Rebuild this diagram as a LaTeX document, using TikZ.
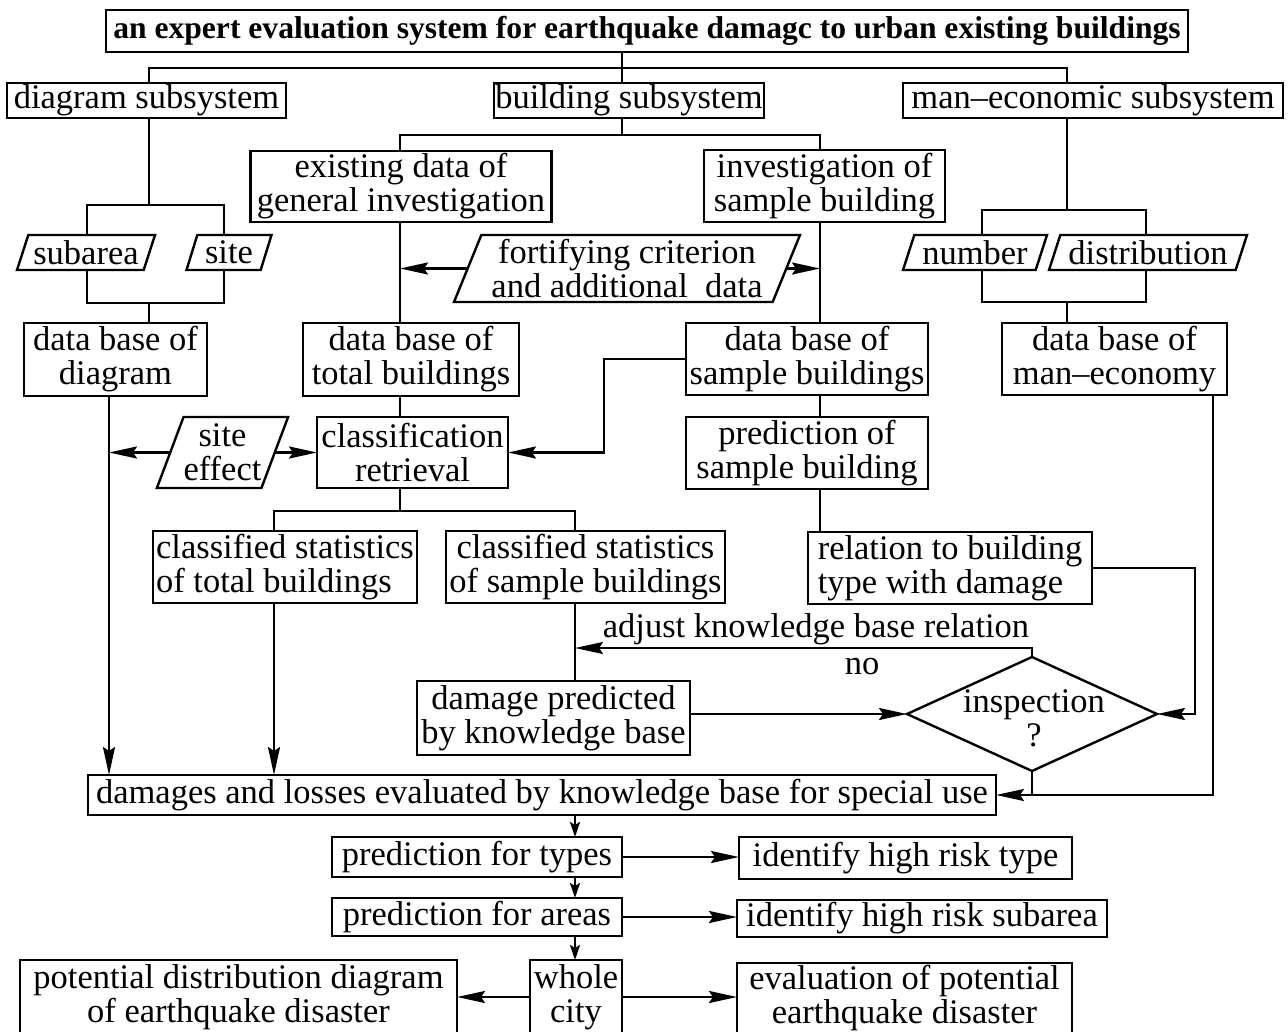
\documentclass[tikz,border=0pt]{standalone}
\usepackage{fontspec}
\setmainfont{Liberation Serif}
\usetikzlibrary{shapes.geometric,arrows.meta,calc}
\newcommand{\bodyfont}{\fontsize{34.5}{34}\selectfont}
\newcommand{\headfont}{\fontsize{31.6}{32}\selectfont\bfseries}
\begin{document}
\begin{tikzpicture}[x=1pt,y=-1pt,
  every node/.style={inner sep=0pt, outer sep=0pt},
  box/.style={draw, line width=2.4pt, align=center, font=\bodyfont},
  para/.style={draw, line width=2.4pt, trapezium, trapezium left angle=65, trapezium right angle=115, trapezium stretches body=true, align=center, font=\bodyfont},
  lbl/.style={align=center, font=\bodyfont},
  conn/.style={line width=2.4pt},
  arr/.style={conn, -{Stealth[length=28pt,width=12pt,inset=4pt]}},
  arrs/.style={conn, -{Stealth[length=15pt,width=10pt,inset=3pt]}},
]
\fill[white] (0,0) rectangle (1288,1032);
\useasboundingbox (0,0) rectangle (1288,1032);
\clip (0,0) rectangle (1288,1032);

% axes and junctions
\coordinate (xA) at (149,0);
\coordinate (xB) at (622,0);
\coordinate (xC) at (400,0);
\coordinate (xD) at (820,0);
\coordinate (xE) at (1067,0);
\coordinate (xF) at (109,0);
\coordinate (xG) at (274,0);
\coordinate (xH) at (575,0);
\coordinate (xI) at (1213,0);
\coordinate (xJ) at (1195,0);
\coordinate (xL) at (604,0);
\coordinate (xS1) at (87,0);
\coordinate (xS2) at (224,0);
\coordinate (xN) at (982,0);
\coordinate (xM) at (1146,0);
\coordinate (j1) at (622,68);
\coordinate (j2) at (622,135);
\coordinate (j3) at (149,205);
\coordinate (j4) at (149,303);
\coordinate (j5) at (1067,210);
\coordinate (j6) at (1067,302);
\coordinate (j7) at (400,511);
\coordinate (j8) at (575,648);

% nodes
\node[box, font=\headfont, minimum width=1082, minimum height=42] (title) at (647,31) {an expert evaluation system for earthquake damagc to urban existing buildings};
\node[box, minimum width=279, minimum height=35] (diag) at (146.5,100.5) {diagram subsystem};
\node[box, minimum width=270, minimum height=35] (build) at (629,100.5) {building subsystem};
\node[box, minimum width=380, minimum height=35] (man) at (1093,100.5) {man--economic subsystem};
\node[box, minimum width=301, minimum height=71] (exist) at (401,186.5) {existing data of\\general investigation};
\node[box, minimum width=241, minimum height=72] (invest) at (824.5,186) {investigation of\\sample building};
\node[para, minimum width=138, minimum height=35] (subarea) at (86,252.5) {subarea};
\node[para, minimum width=85, minimum height=35] (site) at (229,252.5) {site};
\node[para, minimum width=346, minimum height=67] (fort) at (627,268.5) {fortifying criterion\\and additional\ \ data};
\node[para, minimum width=144, minimum height=35] (number) at (975,252.5) {number};
\node[para, minimum width=198, minimum height=35] (distrib) at (1148,252.5) {distribution};
\node[box, minimum width=183, minimum height=73] (dbdiag) at (115.5,359.5) {data base of\\diagram};
\node[box, minimum width=216, minimum height=73] (dbtotal) at (411,359.5) {data base of\\total buildings};
\node[box, minimum width=242, minimum height=72] (dbsample) at (807,359) {data base of\\sample buildings};
\node[box, minimum width=225, minimum height=72] (dbman) at (1114.5,359) {data base of\\man--economy};
\node[para, minimum width=131, minimum height=71] (siteeff) at (222.5,452.5) {site\\effect};
\node[box, minimum width=191, minimum height=71] (classif) at (412.5,452.5) {classification\\retrieval};
\node[box, minimum width=242, minimum height=72] (predsample) at (807,453) {prediction of\\sample building};
\node[box, align=left, minimum width=264, minimum height=72] (cstotal) at (285,567) {classified statistics\\of total buildings};
\node[box, minimum width=279, minimum height=72] (cssample) at (585.5,567) {classified statistics\\of sample buildings};
\node[box, align=left, minimum width=284, minimum height=72] (relation) at (950,568) {relation to building\\type with damage};
\node[box, minimum width=273, minimum height=74] (dmgpred) at (553.5,718) {damage predicted\\by knowledge base};
\node[draw, line width=2.4pt, diamond, minimum width=250, minimum height=114] (insp) at (1032,714) {};
\node[lbl] (insptext) at (1034,718) {inspection\\?};
\node[box, minimum width=908, minimum height=40] (damages) at (542,795) {damages and losses evaluated by knowledge base for special use};
\node[box, minimum width=290, minimum height=40] (ptypes) at (477,857) {prediction for types};
\node[box, minimum width=333, minimum height=42] (idtype) at (905.5,858) {identify high risk type};
\node[box, minimum width=290, minimum height=38] (pareas) at (477,917) {prediction for areas};
\node[box, minimum width=370, minimum height=37] (idsub) at (922,918.5) {identify high risk subarea};
\node[box, minimum width=92, minimum height=74] (whole) at (576,997) {whole\\city};
\node[box, minimum width=437, minimum height=74] (potential) at (238.5,997) {potential distribution diagram\\of earthquake disaster};
\node[box, minimum width=335, minimum height=71] (evaluation) at (904.5,998.5) {evaluation of potential\\earthquake disaster};
\node[lbl, anchor=south] (adjlbl) at (816,645) {adjust knowledge base relation};
\node[lbl] (nolbl) at (862,667) {no};

% connectors: tree from title
\draw[conn] (title.south -| xB) -- (build.north -| xB);
\draw[conn] (diag.north -| xA) |- (j1) -| (man.north -| xE);
\draw[conn] (build.south -| xB) -- (j2);
\draw[conn] (exist.north -| xC) |- (j2) -| (invest.north -| xD);
% diagram subsystem bracket
\draw[conn] (diag.south -| xA) -- (j3);
\draw[conn] (subarea.north -| xS1) |- (j3) -| (site.north -| xS2);
\draw[conn] (subarea.south -| xS1) |- (j4) -| (site.south -| xS2);
\draw[conn] (j4) -- (dbdiag.north -| j4);
% man-economic bracket
\draw[conn] (man.south -| xE) -- (j5);
\draw[conn] (number.north -| xN) |- (j5) -| (distrib.north -| xM);
\draw[conn] (number.south -| xN) |- (j6) -| (distrib.south -| xM);
\draw[conn] (j6) -- (dbman.north -| xE);
% building columns
\draw[conn] (exist.south -| xC) -- (dbtotal.north -| xC);
\draw[conn] (dbtotal.south -| xC) -- (classif.north -| xC);
\draw[arr] (fort.west) -- (fort.west -| xC);
\draw[arr] (fort.east) -- (fort.east -| xD);
\draw[conn] (invest.south -| xD) -- (dbsample.north -| xD);
\draw[conn] (dbsample.south -| xD) -- (predsample.north -| xD);
\draw[conn] (predsample.south -| xD) -- (relation.north -| xD);
% middle
\draw[arr] (dbdiag.south -| xF) -- (damages.north -| xF);
\draw[arr] (siteeff.west) -- (siteeff.west -| xF);
\draw[arr] (siteeff.east) -- (classif.west |- siteeff.east);
\draw[arr] (dbsample.west) -| (classif.east -| xL) -- (classif.east);
\draw[conn] (classif.south -| xC) -- (j7);
\draw[conn] (cstotal.north -| xG) |- (j7) -| (cssample.north -| xH);
\draw[arr] (cstotal.south -| xG) -- (damages.north -| xG);
\draw[conn] (cssample.south -| xH) -- (dmgpred.north -| xH);
\draw[arr] (insp.north) |- (j8);
\draw[arr] (dmgpred.east |- insp.west) -- (insp.west);
\draw[arr] (relation.east) -| (insp.east -| xJ) -- (insp.east);
\draw[conn] (insp.south) -- (insp.south |- damages.east);
\draw[arr] (dbman.south -| xI) |- (damages.east);
% bottom
\draw[arrs] (damages.south -| xH) -- (ptypes.north -| xH);
\draw[arrs] (ptypes.south -| xH) -- (pareas.north -| xH);
\draw[arrs] (pareas.south -| xH) -- (whole.north -| xH);
\draw[arr] (ptypes.east) -- (idtype.west |- ptypes.east);
\draw[arr] (pareas.east) -- (idsub.west |- pareas.east);
\draw[arr] (whole.west) -- (potential.east |- whole.west);
\draw[arr] (whole.east) -- (evaluation.west |- whole.east);
\end{tikzpicture}
\end{document}
